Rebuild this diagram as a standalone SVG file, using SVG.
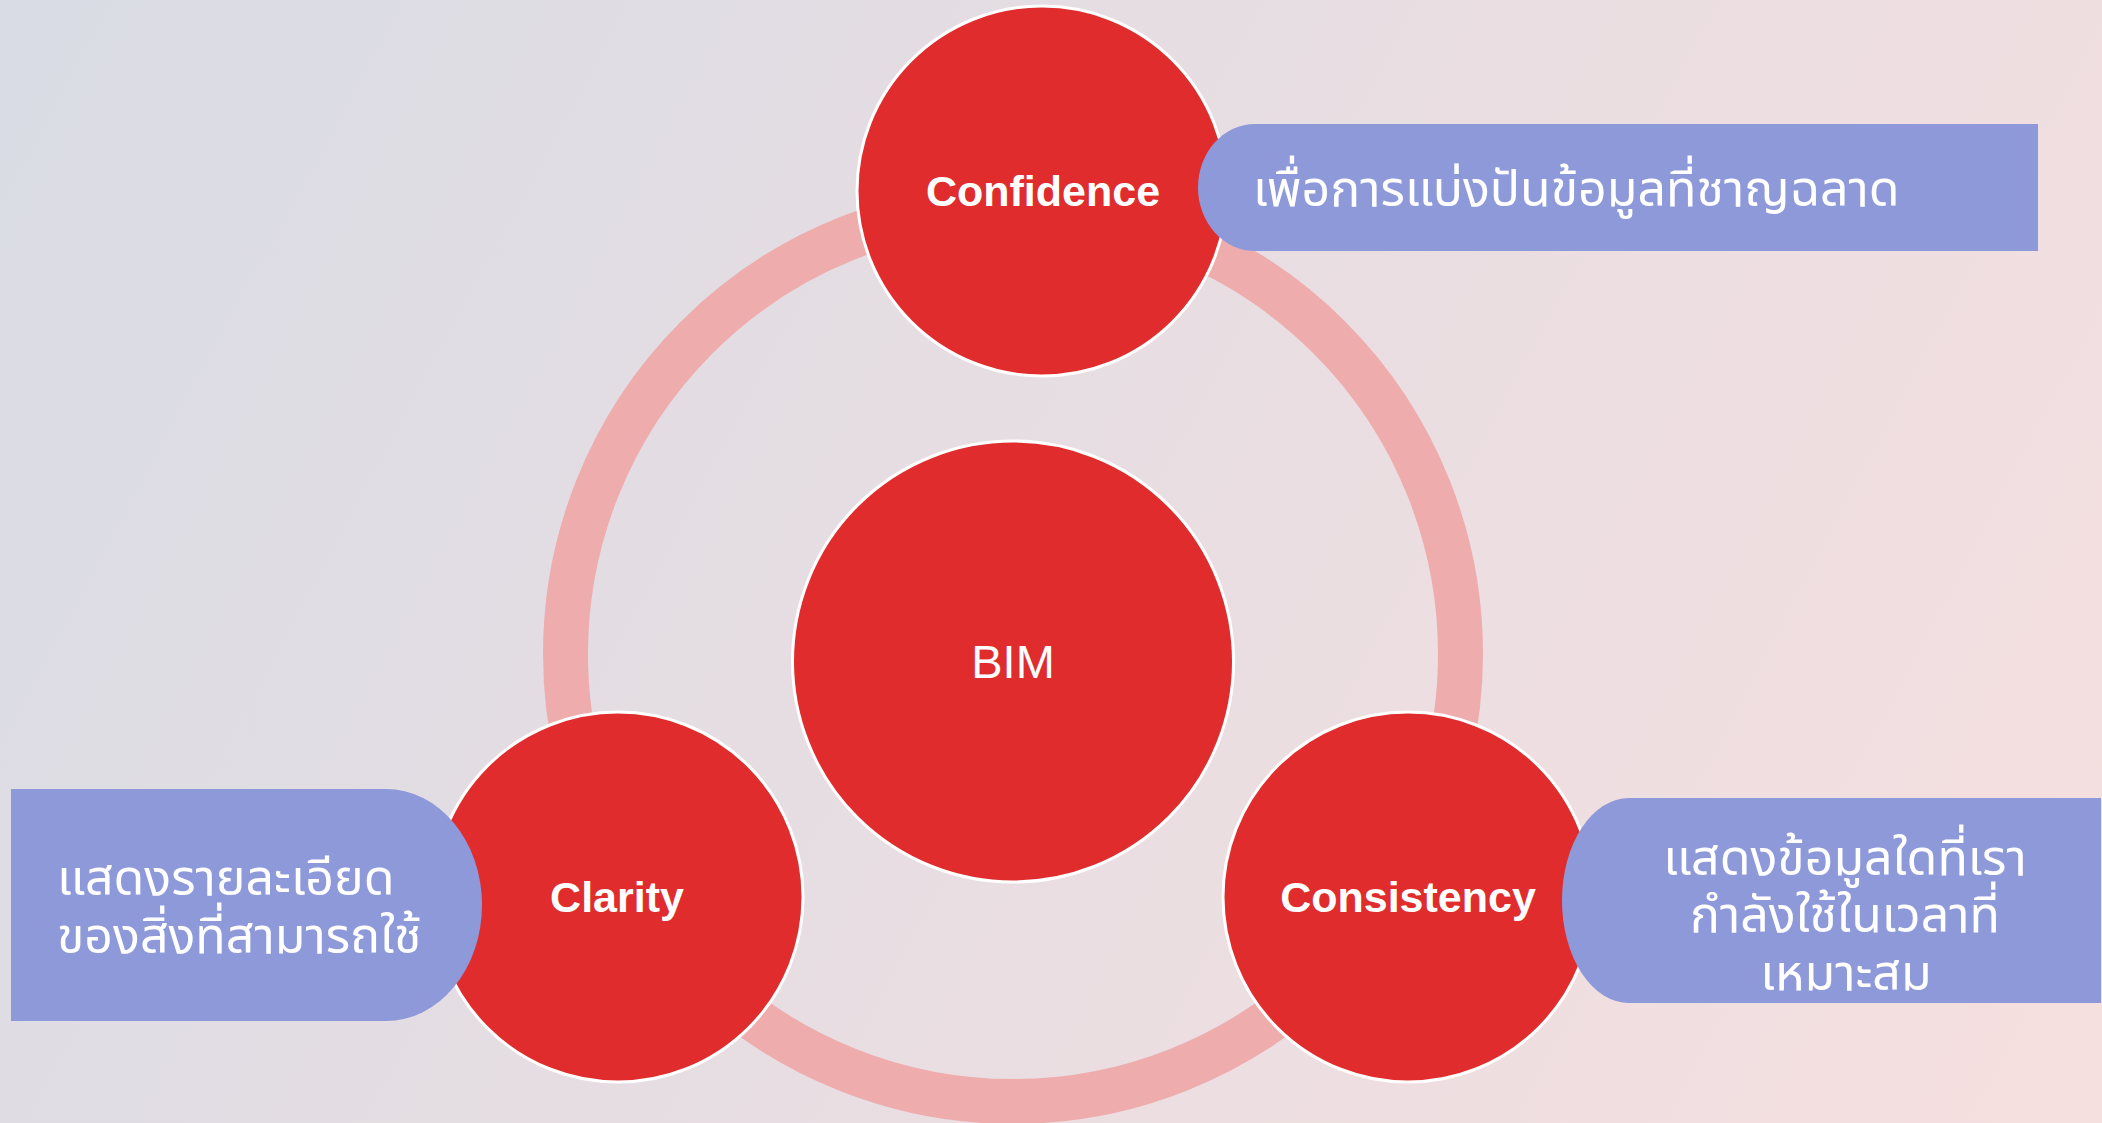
<svg xmlns="http://www.w3.org/2000/svg" width="2102" height="1123" viewBox="0 0 2102 1123">
  <defs>
    <linearGradient id="bg" x1="0" y1="0" x2="2102" y2="1123" gradientUnits="userSpaceOnUse">
      <stop offset="0" stop-color="#D9DCE5"/>
      <stop offset="1" stop-color="#F6DFDF"/>
    </linearGradient>
    <style>
      .circ { fill: #E02C2C; stroke: #FFFFFF; stroke-width: 3; }
      .box { fill: #8E99DA; }
      .lbl { font-family: "Liberation Sans", Arial, sans-serif; font-weight: bold; font-size: 43px; fill: #FFFFFF; text-anchor: middle; }
      .thai { font-family: "Noto Sans Thai", "Tahoma", "DejaVu Sans", sans-serif; font-size: 50px; fill: #FFFFFF; }
    </style>
  </defs>
  <rect x="0" y="0" width="2102" height="1123" fill="url(#bg)"/>

  <g id="connectors">
    <circle cx="1013" cy="654" r="447.5" fill="none" stroke="#EEACAD" stroke-width="45"/>
  </g>

  <g id="node-bim">
    <circle class="circ" cx="1013" cy="661.5" r="220.5"/>
    <text x="1013" y="678" font-family="Liberation Sans, Arial, sans-serif" font-size="47" fill="#FFFFFF" text-anchor="middle">BIM</text>
  </g>

  <g id="node-confidence">
    <circle class="circ" cx="1042" cy="191" r="185"/>
    <text class="lbl" x="1043" y="206">Confidence</text>
  </g>

  <g id="note-confidence">
    <path class="box" d="M1255,124 H2038 V251 H1255 A57,63.5 0 0 1 1255,124 Z"/>
    <text class="thai" x="1253" y="206">เพื่อการแบ่งปันข้อมูลที่ชาญฉลาด</text>
  </g>

  <g id="node-clarity">
    <circle class="circ" cx="618" cy="897" r="185"/>
    <text class="lbl" x="617" y="912">Clarity</text>
  </g>

  <g id="note-clarity">
    <path class="box" d="M11,789 H386 A96,116 0 0 1 386,1021 H11 Z"/>
    <text class="thai" x="57" y="895">แสดงรายละเอียด</text>
    <text class="thai" x="57" y="953">ของสิ่งที่สามารถใช้</text>
  </g>

  <g id="node-consistency">
    <circle class="circ" cx="1408" cy="897" r="185"/>
    <text class="lbl" x="1408" y="912">Consistency</text>
  </g>

  <g id="note-consistency">
    <path class="box" d="M1629,798 H2101 V1003 H1629 A67,102.5 0 0 1 1629,798 Z"/>
    <text class="thai" x="1845" y="875" text-anchor="middle">แสดงข้อมูลใดที่เรา</text>
    <text class="thai" x="1845" y="932" text-anchor="middle">กำลังใช้ในเวลาที่</text>
    <text class="thai" x="1846" y="990" text-anchor="middle">เหมาะสม</text>
  </g>
</svg>
